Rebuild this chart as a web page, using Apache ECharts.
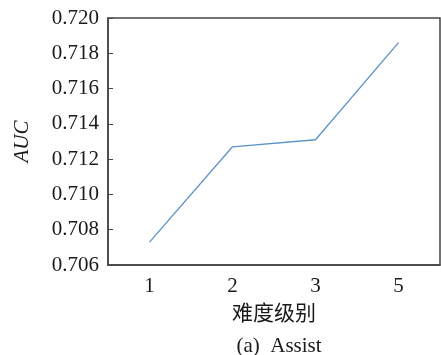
<!DOCTYPE html>
<html><head><meta charset="utf-8">
<script src="https://cdn.jsdelivr.net/npm/echarts@6/dist/echarts.min.js"></script>
<style>html,body{margin:0;padding:0;background:#fff}#c{width:441px;height:355px}</style>
</head><body><div id="c"></div>
<script>
const categories = ['1', '2', '3', '5'];
const aucValues = [0.7073, 0.7127, 0.7131, 0.7186];
const yTicks = [0.706, 0.708, 0.710, 0.712, 0.714, 0.716, 0.718, 0.720];
const xName = '难度级别';
const yName = 'AUC';
const caption = '(a)  Assist';

const serif = '"Liberation Serif", "Noto Sans CJK SC", serif';
const chart = echarts.init(document.getElementById('c'), null, {renderer: 'canvas'});
chart.setOption({
  animation: false,
  backgroundColor: '#fff',
  title: {
    text: caption, left: 274, top: 331, textAlign: 'center',
    textStyle: {fontFamily: serif, fontSize: 21, fontWeight: 'normal', color: '#1a1a1a'}
  },
  grid: {left: 108, top: 18, right: 1, bottom: 90, show: true, borderColor: '#444', borderWidth: 1.5, backgroundColor: 'transparent'},
  xAxis: {
    type: 'category', data: categories, boundaryGap: true,
    name: xName, nameLocation: 'middle', nameGap: 39,
    nameTextStyle: {fontFamily: serif, fontSize: 21, color: '#1a1a1a'},
    axisLine: {lineStyle: {color: '#444', width: 1.5}},
    axisTick: {inside: true, alignWithLabel: true, length: 5, lineStyle: {color: '#444'}},
    axisLabel: {fontFamily: serif, fontSize: 21, color: '#1a1a1a', margin: 11},
    splitLine: {show: false}
  },
  yAxis: {
    type: 'value', min: yTicks[0], max: yTicks[yTicks.length - 1], interval: 0.002,
    name: yName, nameLocation: 'middle', nameGap: 75,
    nameTextStyle: {fontFamily: serif, fontSize: 21, fontStyle: 'italic', color: '#1a1a1a'},
    axisLine: {show: true, lineStyle: {color: '#444', width: 1.5}},
    axisTick: {show: true, inside: true, length: 5, lineStyle: {color: '#444'}},
    axisLabel: {fontFamily: serif, fontSize: 21, color: '#1a1a1a', margin: 9, formatter: v => v.toFixed(3)},
    splitLine: {show: false}
  },
  series: [{
    type: 'line', data: aucValues, symbol: 'none',
    lineStyle: {color: '#5b93c7', width: 1.3}
  }]
});
</script></body></html>
